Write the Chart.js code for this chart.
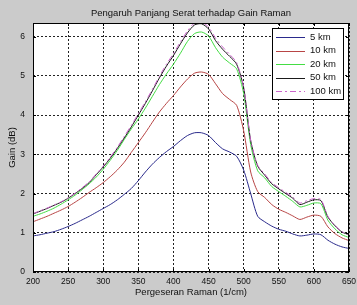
<!DOCTYPE html>
<html><head><meta charset="utf-8">
<script src="https://cdn.jsdelivr.net/npm/chart.js@4/dist/chart.umd.min.js"></script>
<style>html,body{margin:0;padding:0;background:#cbcbcb;}#wrap{width:357px;height:305px;}</style>
</head><body><div id="wrap"><canvas id="c" width="357" height="305"></canvas></div>
<script>
const xValues = [200,210,220,230,240,250,260,270,280,290,300,310,320,330,340,350,360,370,380,390,400,410,420,430,440,450,460,470,480,490,500,510,520,530,540,550,560,570,580,590,600,610,620,630,640,650];
const seriesLabels = ['5 km','10 km','20 km','50 km','100 km'];
const km5 = [0.92,0.95,0.99,1.03,1.09,1.16,1.24,1.33,1.42,1.52,1.62,1.72,1.84,1.98,2.13,2.33,2.55,2.75,2.92,3.07,3.20,3.35,3.48,3.55,3.55,3.48,3.30,3.14,3.06,2.95,2.60,2.00,1.42,1.28,1.17,1.09,1.04,0.97,0.92,0.94,0.97,0.95,0.81,0.71,0.64,0.60];
const km10 = [1.28,1.35,1.42,1.50,1.58,1.67,1.78,1.90,2.03,2.15,2.28,2.43,2.60,2.80,3.05,3.30,3.55,3.82,4.08,4.30,4.50,4.72,4.92,5.07,5.10,5.04,4.80,4.55,4.40,4.25,3.60,2.55,2.05,1.90,1.72,1.60,1.52,1.43,1.34,1.40,1.45,1.42,1.15,0.98,0.87,0.80];
const km20 = [1.42,1.48,1.55,1.63,1.73,1.84,1.96,2.10,2.25,2.42,2.62,2.85,3.10,3.38,3.65,3.90,4.18,4.48,4.78,5.05,5.30,5.58,5.88,6.08,6.12,6.02,5.72,5.48,5.33,5.18,4.55,3.25,2.58,2.40,2.18,2.05,1.93,1.80,1.66,1.70,1.76,1.74,1.32,1.10,0.95,0.88];
const km50 = [1.48,1.55,1.62,1.70,1.78,1.88,2.00,2.13,2.28,2.48,2.68,2.90,3.15,3.42,3.70,4.00,4.30,4.62,4.95,5.25,5.52,5.82,6.10,6.30,6.33,6.20,5.90,5.68,5.50,5.30,4.70,3.35,2.70,2.47,2.25,2.12,2.00,1.88,1.72,1.78,1.84,1.82,1.40,1.18,1.02,0.95];
const km100 = [1.49,1.56,1.63,1.71,1.79,1.89,2.01,2.15,2.30,2.50,2.70,2.93,3.18,3.46,3.74,4.04,4.34,4.66,4.99,5.30,5.57,5.87,6.15,6.35,6.37,6.25,5.96,5.74,5.55,5.34,4.72,3.36,2.72,2.50,2.28,2.15,2.03,1.91,1.76,1.82,1.87,1.85,1.42,1.19,1.03,0.96];
const xTicks = [200,250,300,350,400,450,500,550,600,650];
const yTicks = [0,1,2,3,4,5,6];
const titleText = 'Pengaruh Panjang Serat terhadap Gain Raman';
const xTitle = 'Pergeseran Raman (1/cm)';
const yTitle = 'Gain (dB)';

const colors = ['#2a2a8c','#b84545','#44dd44','#1a1a1a','#cc66cc'];
const dashes = [[],[],[],[],[6,3,2,3]];
const allSeries = [km5,km10,km20,km50,km100];
const FONT = 'Liberation Sans, Arial, sans-serif';

const datasets = allSeries.map((s,i)=>({
  label: seriesLabels[i],
  data: s.map((v,j)=>({x:xValues[j], y:v})),
  borderColor: colors[i],
  borderWidth: 1,
  borderDash: dashes[i],
  pointRadius: 0,
  fill: false,
  tension: 0.25,
  order: 5 - i
}));

const framePlugin = {
  id: 'frame',
  beforeDraw(chart){
    const {ctx, chartArea:a} = chart;
    ctx.save();
    ctx.fillStyle = '#fff';
    ctx.fillRect(a.left, a.top, a.right-a.left, a.bottom-a.top);
    ctx.restore();
  },
  afterDraw(chart){
    const {ctx, chartArea:a, scales} = chart;
    ctx.save();
    ctx.strokeStyle = '#000';
    ctx.lineWidth = 1;
    ctx.setLineDash([]);
    ctx.strokeRect(Math.round(a.left)+0.5, Math.round(a.top)+0.5, Math.round(a.right-a.left)-1, Math.round(a.bottom-a.top)-1);
    const tl = 3;
    ctx.beginPath();
    scales.x.ticks.forEach(t=>{
      const px = Math.round(scales.x.getPixelForValue(t.value))+0.5;
      ctx.moveTo(px,a.bottom); ctx.lineTo(px,a.bottom-tl);
      ctx.moveTo(px,a.top); ctx.lineTo(px,a.top+tl);
    });
    scales.y.ticks.forEach(t=>{
      const py = Math.round(scales.y.getPixelForValue(t.value))+0.5;
      ctx.moveTo(a.left,py); ctx.lineTo(a.left+tl,py);
      ctx.moveTo(a.right,py); ctx.lineTo(a.right-tl,py);
    });
    ctx.stroke();
    // legend
    const lx = 272, ly = 28, lw = 71, lh = 71;
    ctx.fillStyle = '#fff';
    ctx.fillRect(lx, ly, lw, lh);
    ctx.strokeStyle = '#000';
    ctx.strokeRect(lx+0.5, ly+0.5, lw, lh);
    ctx.font = '9.5px ' + FONT;
    ctx.textBaseline = 'middle';
    ctx.textAlign = 'left';
    chart.data.datasets.forEach((d,i)=>{
      const y = ly + 9 + i*13.6;
      ctx.strokeStyle = d.borderColor;
      ctx.setLineDash(d.borderDash || []);
      ctx.beginPath();
      ctx.moveTo(lx+4, Math.round(y)+0.5);
      ctx.lineTo(lx+33, Math.round(y)+0.5);
      ctx.stroke();
      ctx.setLineDash([]);
      ctx.fillStyle = '#111';
      ctx.fillText(d.label, lx+38, y);
    });
    ctx.restore();
  }
};

new Chart(document.getElementById('c'), {
  type: 'line',
  data: { datasets },
  plugins: [framePlugin],
  options: {
    responsive: false,
    animation: false,
    events: [],
    layout: { padding: { left: 0, right: 8, top: 0, bottom: 0 } },
    plugins: {
      legend: { display: false },
      tooltip: { enabled: false },
      title: {
        display: true, text: titleText, fullSize: false,
        color: '#111', font: { family: FONT, size: 9.5, weight: 'normal' },
        padding: { top: 7.6, bottom: 4 }
      }
    },
    scales: {
      x: {
        type: 'linear', min: 200, max: 650,
        afterBuildTicks: s => { s.ticks = xTicks.map(v=>({value:v})); },
        afterFit: s => { s.height = 33; s.paddingLeft = 0; s.paddingRight = 0; },
        ticks: { color: '#111', font: { family: FONT, size: 8.5 }, padding: 4.5, maxRotation: 0, autoSkip: false },
        grid: { color: '#222', lineWidth: 1, drawTicks: false },
        border: { display: false, dash: [2,2] },
        title: { display: true, text: xTitle, color: '#111', font: { family: FONT, size: 9.5 }, padding: { top: 0, bottom: 6.6 } }
      },
      y: {
        type: 'linear', min: 0, max: 6.35,
        afterBuildTicks: s => { s.ticks = yTicks.map(v=>({value:v})); },
        afterFit: s => { s.width = 33; s.paddingTop = 0; s.paddingBottom = 0; },
        ticks: { color: '#111', font: { family: FONT, size: 8.5 }, padding: 8, autoSkip: false },
        grid: { color: '#222', lineWidth: 1, drawTicks: false },
        border: { display: false, dash: [2,2] },
        title: { display: true, text: yTitle, color: '#111', font: { family: FONT, size: 9.5 }, padding: { top: 6.3, bottom: 0 } }
      }
    }
  }
});
</script>
</body></html>
